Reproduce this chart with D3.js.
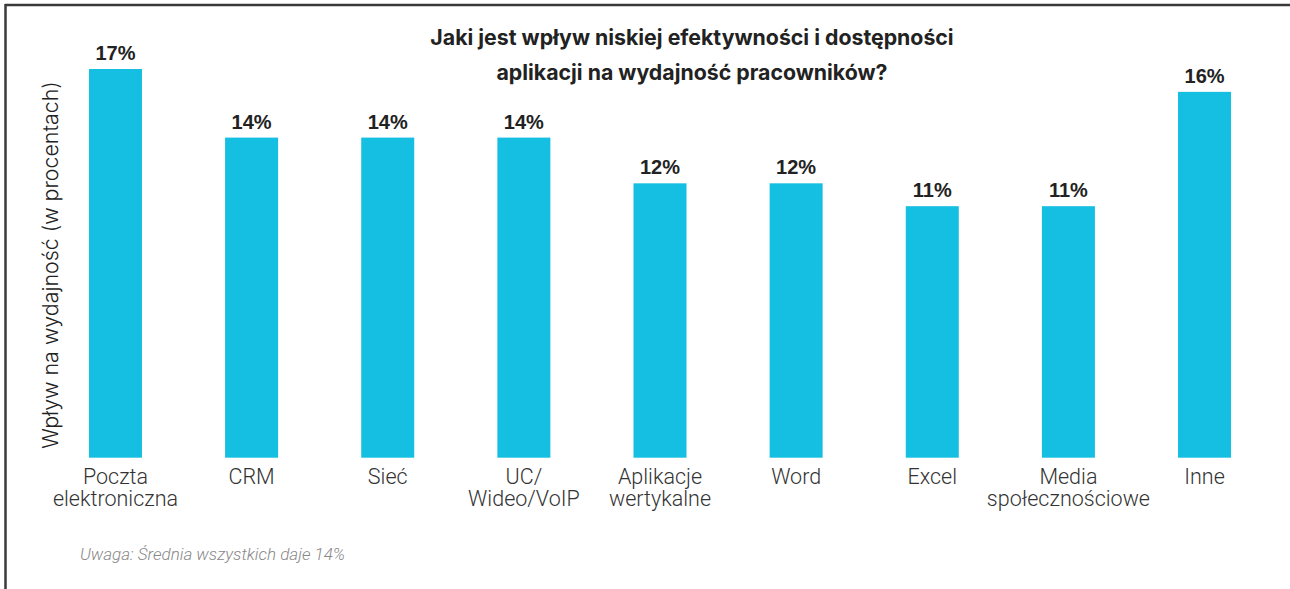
<!DOCTYPE html>
<html>
<head>
<meta charset="utf-8">
<script src="https://cdn.jsdelivr.net/npm/d3@7"></script>
<style>
  html, body { margin: 0; padding: 0; background: #fff; }
  svg { display: block; }
</style>
</head>
<body>
<svg id="chart" width="1290" height="589"></svg>
<script>
const categories = [
  ["Poczta", "elektroniczna"],
  ["CRM"],
  ["Sieć"],
  ["UC/", "Wideo/VoIP"],
  ["Aplikacje", "wertykalne"],
  ["Word"],
  ["Excel"],
  ["Media", "społecznościowe"],
  ["Inne"]
];
const values = [17, 14, 14, 14, 12, 12, 11, 11, 16];
const titleLines = [
  "Jaki jest wpływ niskiej efektywności i dostępności",
  "aplikacji na wydajność pracowników?"
];
const yAxisTitle = "Wpływ na wydajność (w procentach)";
const note = "Uwaga: Średnia wszystkich daje 14%";

const svg = d3.select("#chart");
const W = 1290, H = 589;
const barColor = "#15bfe1";
const keys = categories.map((c, i) => i);

svg.append("line").attr("x1", 5).attr("x2", W).attr("y1", 5).attr("y2", 5)
  .attr("stroke", "#3a3a3a").attr("stroke-width", 2.5);
svg.append("line").attr("x1", 5.5).attr("x2", 5.5).attr("y1", 4).attr("y2", H)
  .attr("stroke", "#3a3a3a").attr("stroke-width", 2.5);

const x = d3.scaleBand().domain(keys).range([47.4, 1272.6])
  .paddingInner(0.6106).paddingOuter(0.3053);
const y = d3.scaleLinear().domain([0, 17]).range([457.7, 69]);

const g = svg.append("g");
g.selectAll("rect.bar").data(values).join("rect")
  .attr("class", "bar")
  .attr("x", (d, i) => x(i))
  .attr("width", x.bandwidth())
  .attr("y", d => y(d))
  .attr("height", d => y(0) - y(d))
  .attr("fill", barColor);

g.selectAll("text.val").data(values).join("text")
  .attr("class", "val")
  .attr("x", (d, i) => x(i) + x.bandwidth() / 2)
  .attr("y", d => y(d) - 9)
  .attr("text-anchor", "middle")
  .attr("font-family", "Liberation Sans, Arial, sans-serif")
  .attr("font-weight", "bold")
  .attr("font-size", 20)
  .attr("fill", "#222")
  .text(d => d + "%");

const xAxis = d3.axisBottom(x).tickSize(0).tickFormat("");
const axG = svg.append("g").attr("transform", `translate(0,${y(0)})`).call(xAxis);
axG.select(".domain").remove();
axG.selectAll(".tick").each(function(d) {
  const t = d3.select(this).append("text")
    .attr("text-anchor", "middle")
    .attr("font-family", "Roboto, sans-serif")
    .attr("font-weight", 300)
    .attr("font-size", 21.5)
    .attr("fill", "#333");
  categories[d].forEach((line, j) => {
    t.append("tspan").attr("x", 0).attr("y", 26 + j * 22.5).text(line);
  });
});

const title = svg.append("text")
  .attr("text-anchor", "middle")
  .attr("font-family", "Inter, sans-serif")
  .attr("font-weight", 700)
  .attr("font-size", 21.3)
  .attr("fill", "#222");
titleLines.forEach((l, i) => {
  title.append("tspan").attr("x", 692).attr("y", 45 + i * 35).text(l);
});

svg.append("text")
  .attr("transform", "translate(58,265) rotate(-90)")
  .attr("text-anchor", "middle")
  .attr("font-family", "Inter, sans-serif")
  .attr("font-weight", 300)
  .attr("font-size", 21.4)
  .attr("fill", "#222")
  .text(yAxisTitle);

svg.append("text")
  .attr("x", 80).attr("y", 560)
  .attr("font-family", "Roboto, sans-serif")
  .attr("font-weight", 300)
  .attr("font-style", "italic")
  .attr("font-size", 17)
  .attr("fill", "#888")
  .text(note);
</script>
</body>
</html>
